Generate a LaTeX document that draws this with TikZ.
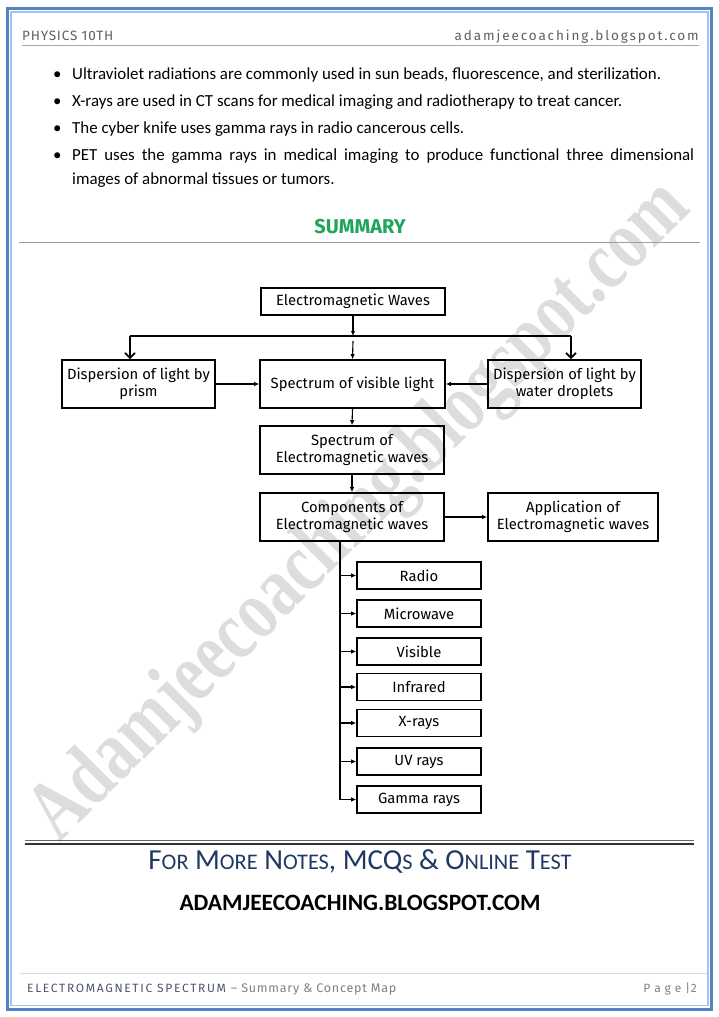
\documentclass[tikz,border=0pt]{standalone}
\usepackage{fontspec}
\setmainfont{Carlito}
\newfontfamily\diagfont{Fira Sans}
\newfontfamily\headfont[LetterSpace=6]{Fira Sans}
\newfontfamily\sitefont[LetterSpace=14]{Fira Sans}
\newfontfamily\markfont[FakeStretch=0.78]{Liberation Serif}
\usetikzlibrary{arrows.meta,positioning}

\definecolor{pageblue}{RGB}{84,130,197}
\definecolor{pagelight}{RGB}{165,195,232}
\definecolor{headgray}{RGB}{90,95,105}
\definecolor{summarygreen}{RGB}{30,165,90}
\definecolor{notesblue}{RGB}{31,56,100}
\definecolor{footblue}{RGB}{75,85,105}

\newcommand\boxfont{\diagfont\fontsize{14.8}{17}\selectfont}
\newcommand\bodyfont{\fontsize{16.9}{18}\selectfont}
\newcommand\bigsmall[2]{#1{\fontsize{22.3}{32}\selectfont #2}}

\begin{document}
\begin{tikzpicture}[x=1pt, y=-1pt,
		% Styles
		box/.style={rectangle, draw=black, line width=1.6pt, align=center, font=\boxfont, inner sep=0pt},
		item/.style={box, minimum width=124pt, minimum height=27pt},
		bodytext/.style={anchor=base west, inner sep=0pt, font=\bodyfont},
		% Arrows
		link/.style={-{Latex[length=5pt,width=4.5pt]}, line width=1.1pt},
		branch/.style={-{Straight Barb[length=5pt,width=10pt]}, line width=1.8pt},
		]

		\useasboundingbox (0,0) rectangle (719,1017);

		% Watermark
		\node[rotate=45, text=gray!27, font=\markfont\bfseries\fontsize{85}{85}\selectfont] (mark) at (362,513) {Adamjeecoaching.blogspot.com};

		% Page frame
		\draw[pageblue, line width=3pt] (7.5,8.5) rectangle (711.5,1009);
		\draw[pagelight, line width=1.2pt] (11,12) rectangle (708,1005.5);

		% Header
		\node[anchor=base west, inner sep=0pt, text=headgray, font=\headfont\fontsize{13.5}{15}\selectfont] (subject) at (22,40) {PHYSICS 10TH};
		\node[anchor=base east, inner sep=0pt, text=headgray, font=\sitefont\fontsize{13.5}{15}\selectfont] (site) at (699,40) {adamjeecoaching.blogspot.com};
		\draw[gray!70, line width=0.8pt] (22,45) -- (699,45);

		% Bullet points
		\node[bodytext] (dot1) at (53,79) {\textbullet};
		\node[bodytext] (b1) at (72,79) {Ultraviolet radiations are commonly used in sun beads, fluorescence, and sterilization.};
		\node[bodytext] (dot2) at (53,106) {\textbullet};
		\node[bodytext] (b2) at (72,106) {X-rays are used in CT scans for medical imaging and radiotherapy to treat cancer.};
		\node[bodytext] (dot3) at (53,133) {\textbullet};
		\node[bodytext] (b3) at (72,133) {The cyber knife uses gamma rays in radio cancerous cells.};
		\node[bodytext] (dot4) at (53,160) {\textbullet};
		\node[bodytext] (b4) at (72,160) {\makebox[622pt][s]{PET uses the gamma rays in medical imaging to produce functional three dimensional}};
		\node[bodytext] (b4b) at (72,184) {images of abnormal tissues or tumors.};

		% Summary title
		\node[text=summarygreen, font=\diagfont\bfseries\fontsize{20}{22}\selectfont] (summary) at (360,227) {SUMMARY};
		\draw[gray!75, line width=0.8pt] (19,242) -- (700,242);

		% Concept map
		\node[box, minimum width=184pt, minimum height=27pt] (ew) at (353,301.5) {Electromagnetic Waves};
		\node[box, minimum width=153pt, minimum height=48pt] (prism) at (138.5,384) {Dispersion of light by\\prism};
		\node[box, minimum width=185pt, minimum height=48pt] (visible) at (352.5,384) {Spectrum of visible light};
		\node[box, minimum width=153pt, minimum height=48pt] (droplets) at (564.5,384) {Dispersion of light by\\water droplets};
		\node[box, minimum width=184pt, minimum height=48pt] (emspec) at (352,450) {Spectrum of\\Electromagnetic waves};
		\node[box, minimum width=184pt, minimum height=48pt] (comp) at (352,517) {Components of\\Electromagnetic waves};
		\node[box, minimum width=170pt, minimum height=48pt] (appl) at (573,517) {Application of\\Electromagnetic waves};

		% Components
		\node[item] (radio) at (419,575.5) {Radio};
		\node[item] (micro) at (419,613.5) {Microwave};
		\node[item] (vis) at (419,651.5) {Visible};
		\node[item] (infra) at (419,687) {Infrared};
		\node[item] (xray) at (419,723) {X-rays};
		\node[item] (uv) at (419,761.5) {UV rays};
		\node[item] (gamma) at (419,799.5) {Gamma rays};

		% Connections
		\coordinate (split) at (353,336);
		\coordinate (splitL) at (130,336);
		\coordinate (splitR) at (571,336);
		\coordinate (splitM) at (353,341);
		\coordinate (trunk) at (340,541);

		\draw[link] (ew.south) -- (split);
		\draw[line width=1.1pt] (splitL) -- (splitR);
		\draw[branch] (splitL) -- (splitL |- prism.north);
		\draw[branch] (splitR) -- (splitR |- droplets.north);
		\draw[link] (splitM) -- (visible.north);
		\draw[link] (prism.east) -- (visible.west);
		\draw[link] (droplets.west) -- (visible.east);
		\draw[link] (visible.south) -- (emspec.north);
		\draw[link] (emspec.south) -- (comp.north);
		\draw[link] (comp.east) -- (appl.west);

		% Components of the spectrum
		\draw[link] (trunk) |- (gamma.west);
		\draw[link] (trunk |- radio.west) -- (radio.west);
		\draw[link] (trunk |- micro.west) -- (micro.west);
		\draw[link] (trunk |- vis.west) -- (vis.west);
		\draw[link] (trunk |- infra.west) -- (infra.west);
		\draw[link] (trunk |- xray.west) -- (xray.west);
		\draw[link] (trunk |- uv.west) -- (uv.west);

		% Footer notes
		\draw[gray!80!black, line width=0.6pt] (25,840.5) -- (694,840.5);
		\draw[gray!40!black, line width=2pt] (25,843.5) -- (694,843.5);
		\node[text=notesblue, font=\fontsize{29}{32}\selectfont] (notes) at (360,862) {\bigsmall{F}{OR} \bigsmall{M}{ORE} \bigsmall{N}{OTES}, \bigsmall{MCQ}{S} \& \bigsmall{O}{NLINE} \bigsmall{T}{EST}};
		\node[font=\bfseries\fontsize{23.4}{26}\selectfont] (url) at (360,903) {ADAMJEECOACHING.BLOGSPOT.COM};

		% Page footer
		\draw[gray!30, line width=0.8pt] (20,973) -- (707,973);
		\node[anchor=base west, inner sep=0pt, font=\sitefont\fontsize{12}{14}\selectfont] (chapter) at (27,992) {\textcolor{footblue}{ELECTROMAGNETIC SPECTRUM} {\headfont\fontsize{12.5}{14}\selectfont\textcolor{gray}{– Summary \& Concept Map}}};
		\node[anchor=base east, inner sep=0pt, text=gray, font=\headfont\fontsize{12}{14}\selectfont] (page) at (697,992) {P a g e |2};

	\end{tikzpicture}
\end{document}
